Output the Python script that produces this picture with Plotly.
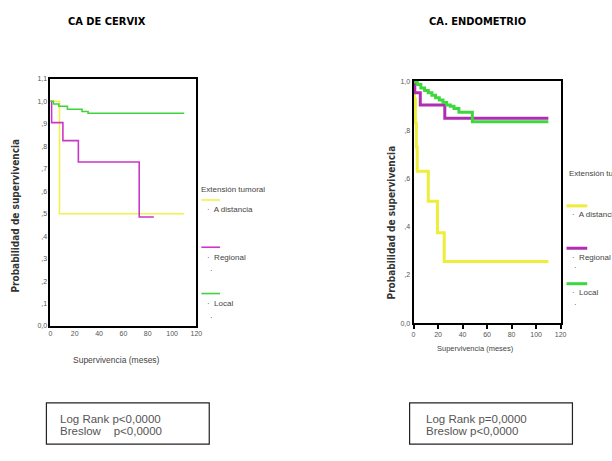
import plotly.graph_objects as go

# ---------------- DATA ----------------
# CA DE CERVIX (Kaplan-Meier, tiempo en meses)
cervix_distancia_t = [0, 7.5, 110]
cervix_distancia_s = [1.0, 0.50, 0.50]
cervix_regional_t = [0, 1, 10.3, 23, 73, 85]
cervix_regional_s = [1.0, 0.905, 0.825, 0.73, 0.485, 0.485]
cervix_local_t = [0, 2.5, 7, 14, 26, 31, 110]
cervix_local_s = [1.0, 0.988, 0.978, 0.965, 0.955, 0.947, 0.947]

# CA. ENDOMETRIO
endo_distancia_t = [0, 0.7, 1.5, 2.3, 3, 12, 19.5, 25, 110]
endo_distancia_s = [1.0, 0.93, 0.83, 0.73, 0.63, 0.505, 0.375, 0.255, 0.255]
endo_regional_t = [0, 1, 5.5, 25.5, 110]
endo_regional_s = [1.0, 0.955, 0.905, 0.85, 0.85]
endo_local_t = [0, 3, 6, 9, 12, 15, 18, 21, 24, 27, 30, 33, 37, 48, 110]
endo_local_s = [1.0, 0.99, 0.975, 0.965, 0.955, 0.945, 0.935, 0.925, 0.915,
                0.905, 0.90, 0.89, 0.875, 0.835, 0.835]

titles = ["CA DE CERVIX", "CA. ENDOMETRIO"]
group_names = ["A distancia", "Regional", "Local"]
legend_title = "Extensión tumoral"
x_ticks = [0, 20, 40, 60, 80, 100, 120]
y_ticks_left = [0.0, 0.1, 0.2, 0.3, 0.4, 0.5, 0.6, 0.7, 0.8, 0.9, 1.0, 1.1]
y_ticktext_left = ["0,0", ",1", ",2", ",3", ",4", ",5", ",6", ",7", ",8", ",9", "1,0", "1,1"]
y_ticks_right = [0.0, 0.2, 0.4, 0.6, 0.8, 1.0]
y_ticktext_right = ["0,0", ",2", ",4", ",6", ",8", "1,0"]
stats_left = ["Log Rank p<0,0000", "Breslow    p<0,0000"]
stats_right = ["Log Rank p=0,0000", "Breslow p<0,0000"]

# ---------------- STYLE ----------------
W, H = 612, 461
col_left = ["#F2F24A", "#C936C9", "#3FD43F"]
col_right = ["#EDED3A", "#B02CB0", "#3ED83E"]
title_font = dict(family="DejaVu Sans Condensed, Liberation Sans Narrow, DejaVu Sans",
                  size=11, color="black")
small = dict(family="Liberation Sans, Arial", size=7, color="#555555")


def px(x):
    return x / W


def py(y):
    return 1 - y / H


fig = go.Figure()

left_series = [(cervix_distancia_t, cervix_distancia_s),
               (cervix_regional_t, cervix_regional_s),
               (cervix_local_t, cervix_local_s)]
right_series = [(endo_distancia_t, endo_distancia_s),
                (endo_regional_t, endo_regional_s),
                (endo_local_t, endo_local_s)]

for (t, s), c, n in zip(left_series, col_left, group_names):
    fig.add_trace(go.Scatter(x=t, y=s, mode="lines", line=dict(color=c, width=1.6, shape="hv"),
                             name=n, xaxis="x", yaxis="y", showlegend=False))
for (t, s), c, n in zip(right_series, col_right, group_names):
    fig.add_trace(go.Scatter(x=t, y=s, mode="lines", line=dict(color=c, width=3, shape="hv"),
                             name=n, xaxis="x2", yaxis="y2", showlegend=False))

ax_common = dict(showgrid=False, zeroline=False, showline=True, linecolor="black",
                 mirror=True, tickfont=small)

L_LEFT, L_RIGHT, L_TOP, L_BOT = 49, 197, 76, 327
R_LEFT, R_RIGHT, R_TOP, R_BOT = 417, 566, 78, 324

fig.update_layout(
    width=W, height=H, margin=dict(l=0, r=0, t=0, b=0),
    paper_bgcolor="white", plot_bgcolor="white",
    xaxis=dict(domain=[px(L_LEFT), px(L_RIGHT)], range=[0, 120], tickvals=x_ticks,
               linewidth=1.5, ticks="", anchor="y", **ax_common),
    yaxis=dict(domain=[py(L_BOT), py(L_TOP)], range=[0, 1.1], tickvals=y_ticks_left,
               ticktext=y_ticktext_left, linewidth=1.5, ticks="", anchor="x", **ax_common),
    xaxis2=dict(domain=[px(R_LEFT), px(R_RIGHT)], range=[0, 120], tickvals=x_ticks,
                linewidth=2, ticks="outside", ticklen=4, tickwidth=2, tickcolor="black",
                anchor="y2", **ax_common),
    yaxis2=dict(domain=[py(R_BOT), py(R_TOP)], range=[0, 1.005], tickvals=y_ticks_right,
                ticktext=y_ticktext_right, linewidth=2, ticks="", anchor="x2", **ax_common),
)

ann = []
# titles
ann.append(dict(x=px(106), y=py(18), text="<b>" + titles[0] + "</b>", font=title_font))
ann.append(dict(x=px(482), y=py(18), text="<b>" + titles[1] + "</b>", font=title_font))
# axis titles
ytitle_font = dict(family="DejaVu Sans Condensed, Liberation Sans Narrow, DejaVu Sans", size=10, color="#333")
ann.append(dict(x=px(14), y=py(215), text="<b>Probabilidad de supervivencia</b>",
                textangle=-90, font=ytitle_font))
ann.append(dict(x=px(395), y=py(222), text="<b>Probabilidad de supervivencia</b>",
                textangle=-90, font=ytitle_font))
ann.append(dict(x=px(116), y=py(361), text="Supervivencia (meses)",
                font=dict(family="Liberation Sans, Arial", size=8.5, color="#444")))
ann.append(dict(x=px(480), y=py(350), text="Supervivencia (meses)",
                font=dict(family="Liberation Sans, Arial", size=7.5, color="#444")))

shapes = []
leg_font = dict(family="Liberation Sans, Arial", size=8, color="#444")
# left legend
ann.append(dict(x=px(200), y=py(188), text=legend_title, xanchor="left", font=leg_font))
left_leg_y = [199, 247, 294]
for i, (c, n) in enumerate(zip(col_left, group_names)):
    yy = left_leg_y[i]
    shapes.append(dict(type="line", xref="paper", yref="paper", x0=px(202), x1=px(221),
                       y0=py(yy), y1=py(yy), line=dict(color=c, width=1.6)))
    ann.append(dict(x=px(206), y=py(yy + 10), text="·  " + n, xanchor="left", font=leg_font))
for yy in [271, 318]:
    ann.append(dict(x=px(209), y=py(yy), text="·", xanchor="left", font=leg_font))
# right legend
ann.append(dict(x=px(572), y=py(172), text=legend_title, xanchor="left", font=leg_font))
right_leg_y = [205, 248, 284]
for i, (c, n) in enumerate(zip(col_right, group_names)):
    yy = right_leg_y[i]
    shapes.append(dict(type="line", xref="paper", yref="paper", x0=px(572), x1=px(593),
                       y0=py(yy), y1=py(yy), line=dict(color=c, width=3)))
    ann.append(dict(x=px(576), y=py(yy + 9), text="·  " + n, xanchor="left", font=leg_font))
for yy in [268, 305]:
    ann.append(dict(x=px(578), y=py(yy), text="·", xanchor="left", font=leg_font))

# stats boxes
stat_font = dict(family="Liberation Sans, Arial", size=11.5, color="#555555")
shapes.append(dict(type="rect", xref="paper", yref="paper", x0=px(45), x1=px(210),
                   y0=py(447), y1=py(405), line=dict(color="#222", width=1.2)))
shapes.append(dict(type="rect", xref="paper", yref="paper", x0=px(413), x1=px(578),
                   y0=py(447), y1=py(405), line=dict(color="#222", width=1.2)))
for i, (sl, sr) in enumerate(zip(stats_left, stats_right)):
    yy = 421 + 12.5 * i
    ann.append(dict(x=px(57), y=py(yy), text=sl, xanchor="left", font=stat_font))
    ann.append(dict(x=px(428), y=py(yy), text=sr, xanchor="left", font=stat_font))

for a in ann:
    a.setdefault("xref", "paper")
    a.setdefault("yref", "paper")
    a.setdefault("showarrow", False)
    a.setdefault("xanchor", "center")
    a.setdefault("yanchor", "middle")

fig.update_layout(annotations=ann, shapes=shapes)
fig.write_html("out.html", config={"displayModeBar": False},
               post_script="document.body.style.margin='0';")
